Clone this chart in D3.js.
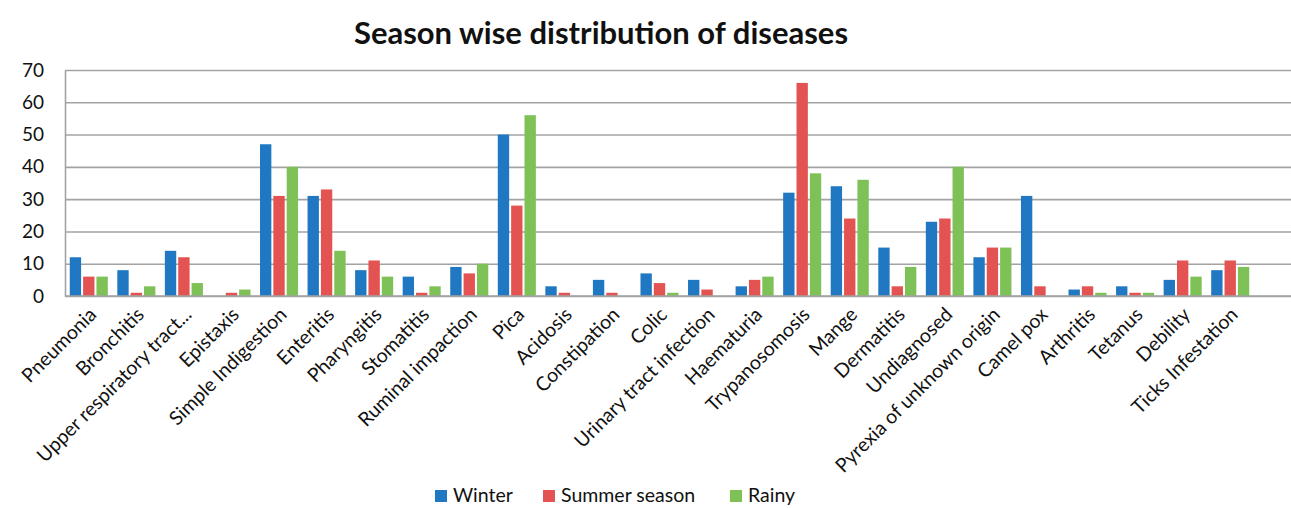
<!DOCTYPE html>
<html>
<head>
<meta charset="utf-8">
<script src="https://cdn.jsdelivr.net/npm/d3@7"></script>
<style>
  body { margin: 0; background: #fff; }
  text { font-family: Lato, "Open Sans", sans-serif; fill: #111; }
</style>
</head>
<body>
<div id="vis"></div>
<script>
const FRAME_WIDTH = 1291;
const FRAME_HEIGHT = 508;
const MARGINS = {left: 65, right: 0, top: 70, bottom: 212};

// data
const CATEGORIES = ["Pneumonia", "Bronchitis", "Upper respiratory tract...", "Epistaxis",
  "Simple Indigestion", "Enteritis", "Pharyngitis", "Stomatitis", "Ruminal impaction",
  "Pica", "Acidosis", "Constipation", "Colic", "Urinary tract infection", "Haematuria",
  "Trypanosomosis", "Mange", "Dermatitis", "Undiagnosed", "Pyrexia of unknown origin",
  "Camel pox", "Arthritis", "Tetanus", "Debility", "Ticks Infestation"];
const SERIES = ["Winter", "Summer season", "Rainy"];
const WINTER = [12, 8, 14, 0, 47, 31, 8, 6, 9, 50, 3, 5, 7, 5, 3, 32, 34, 15, 23, 12, 31, 2, 3, 5, 8];
const SUMMER = [6, 1, 12, 1, 31, 33, 11, 1, 7, 28, 1, 1, 4, 2, 5, 66, 24, 3, 24, 15, 3, 3, 1, 11, 11];
const RAINY  = [6, 3, 4, 2, 40, 14, 6, 3, 10, 56, 0, 0, 1, 0, 6, 38, 36, 9, 40, 15, 0, 1, 1, 6, 9];
const Y_TICKS = [0, 10, 20, 30, 40, 50, 60, 70];
const COLORS = ["#1f78c1", "#e25351", "#7dc157"];

const VIS_HEIGHT = FRAME_HEIGHT - MARGINS.top - MARGINS.bottom;
const VIS_WIDTH = FRAME_WIDTH - MARGINS.left - MARGINS.right;
const BAND_RIGHT = 1254 - MARGINS.left; // categories end before the grid does

const X_SCALE = d3.scaleBand()
                  .domain(CATEGORIES)
                  .range([0, BAND_RIGHT]);

const X_INNER = d3.scaleBand()
                  .domain(SERIES)
                  .range([X_SCALE.bandwidth() * 0.1, X_SCALE.bandwidth() * 0.9])
                  .paddingInner(0.15);

const Y_SCALE = d3.scaleLinear()
                  .domain([0, 70])
                  .range([VIS_HEIGHT, 0]);

const SVG = d3.select("#vis")
              .append("svg")
                .attr("width", FRAME_WIDTH)
                .attr("height", FRAME_HEIGHT);

// title
SVG.append("text")
    .attr("x", 601)
    .attr("y", 44)
    .attr("text-anchor", "middle")
    .attr("font-size", "31px")
    .attr("font-weight", "bold")
    .text("Season wise distribution of diseases");

const G = SVG.append("g")
    .attr("transform", "translate(" + MARGINS.left + "," + MARGINS.top + ")");

// gridlines
G.append("g")
    .call(d3.axisLeft(Y_SCALE).tickValues(Y_TICKS).tickSize(-VIS_WIDTH).tickFormat(""))
    .call(g => g.select(".domain").remove())
    .call(g => g.selectAll("line").attr("stroke", "#a3a3a3").attr("stroke-width", 1.6));

// y tick labels
G.append("g")
    .call(d3.axisLeft(Y_SCALE).tickValues(Y_TICKS).tickSize(0).tickPadding(21))
    .call(g => g.select(".domain").attr("stroke", "#a3a3a3").attr("stroke-width", 1.6))
    .call(g => g.selectAll("text").attr("font-size", "19px").attr("fill", "#111"));

// bars
const ROWS = CATEGORIES.map((c, i) => ({cat: c, vals: [WINTER[i], SUMMER[i], RAINY[i]]}));

const GROUPS = G.selectAll(".grp")
    .data(ROWS)
    .enter()
    .append("g")
      .attr("transform", (d) => "translate(" + X_SCALE(d.cat) + ",0)");

GROUPS.selectAll("rect")
    .data((d) => d.vals.map((v, j) => ({s: SERIES[j], v: v, j: j})))
    .enter()
    .append("rect")
      .attr("x", (d) => X_INNER(d.s))
      .attr("y", (d) => Y_SCALE(d.v))
      .attr("width", X_INNER.bandwidth())
      .attr("height", (d) => VIS_HEIGHT - Y_SCALE(d.v))
      .attr("fill", (d) => COLORS[d.j]);

// x axis
const XAX = G.append("g")
    .attr("transform", "translate(0," + VIS_HEIGHT + ")")
    .call(d3.axisBottom(X_SCALE).tickSize(0).tickPadding(0));
XAX.select(".domain").attr("stroke", "#a3a3a3").attr("stroke-width", 1.6).attr("d", "M0,0H" + VIS_WIDTH);
XAX.selectAll("text")
    .attr("font-size", "19.5px")
    .attr("fill", "#111")
    .attr("text-anchor", "end")
    .attr("dy", "0.35em")
    .attr("transform", "translate(4,15) rotate(-45)");

// legend
const LEGEND_X = [435, 543, 730];
const LEG = SVG.append("g");
SERIES.forEach((s, i) => {
  LEG.append("rect")
      .attr("x", LEGEND_X[i])
      .attr("y", 490)
      .attr("width", 12)
      .attr("height", 12)
      .attr("fill", COLORS[i]);
  LEG.append("text")
      .attr("x", LEGEND_X[i] + 18)
      .attr("y", 502)
      .attr("font-size", "19.5px")
      .text(s);
});
</script>
</body>
</html>
